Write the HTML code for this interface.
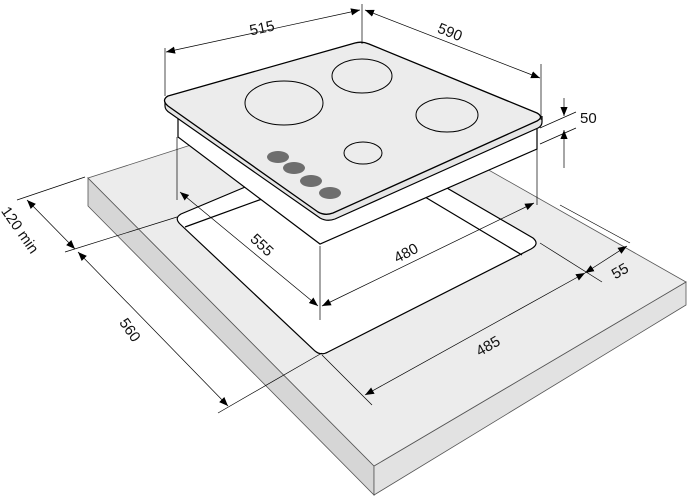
<!DOCTYPE html>
<html><head><meta charset="utf-8"><style>
html,body{margin:0;padding:0;background:#fff}
svg{display:block}
text{font-family:"Liberation Sans",sans-serif;font-size:15px;fill:#111}
</style></head><body>
<svg width="688" height="496" viewBox="0 0 688 496" xmlns="http://www.w3.org/2000/svg">
<defs>
<marker id="a" viewBox="0 0 10 10" refX="10" refY="5" markerWidth="9" markerHeight="9" orient="auto-start-reverse" markerUnits="userSpaceOnUse"><path d="M0,1 L10,5 L0,9 z" fill="#000"/></marker>
</defs>
<!-- countertop -->
<polygon points="88,178 88,206 374,495 374,466" fill="#d6d6d6" stroke="#555" stroke-width="0.8"/>
<polygon points="374,466 374,495 686,305 686,282" fill="#e2e2e2" stroke="#555" stroke-width="0.8"/>
<polygon points="88,178 353,93 686,282 374,466" fill="#ececec" stroke="#555" stroke-width="0.8"/>
<!-- cutout -->
<path d="M250,185 L181,214 Q174,218 180,224 L315,351 Q321,356 328,352 L531,249 Q540,244 533,238 L440,184 Z" fill="#fff" stroke="#000" stroke-width="1.2"/>
<line x1="185" y1="227" x2="262" y2="199" stroke="#000" stroke-width="1.2"/>
<line x1="522" y1="255" x2="425" y2="197" stroke="#000" stroke-width="1.2"/>
<!-- hob body -->
<polygon points="166,106 178,118 178,137 320,244 537,149 537,126 540,118" fill="#fff" stroke="#000" stroke-width="1.2"/>
<line x1="177" y1="137" x2="177" y2="200" stroke="#000" stroke-width="0.7"/>
<line x1="537" y1="149" x2="537" y2="205" stroke="#000" stroke-width="0.7"/>
<line x1="320" y1="246" x2="320" y2="320" stroke="#000" stroke-width="0.7"/>
<!-- plate thickness -->
<path d="M165,100 L165,106 Q165,110 170,113 L320,218 Q327,222 335,219 L538,128 Q542,126 542,122 L542,116" fill="#e6e6e6" stroke="#000" stroke-width="1.2"/>
<!-- plate top -->
<path d="M168,96 L355,43 Q362,41 369,44 L537,113 Q544,117 537,121 L333,213 Q325,216 318,212 L168,106 Q161,100 168,96 Z" fill="#ececec" stroke="#000" stroke-width="1.3"/>
<!-- burners -->
<ellipse cx="284" cy="103" rx="39" ry="22" fill="none" stroke="#000" stroke-width="1"/>
<ellipse cx="362" cy="76" rx="30" ry="17" fill="none" stroke="#000" stroke-width="1"/>
<ellipse cx="447" cy="115" rx="31" ry="17" fill="none" stroke="#000" stroke-width="1"/>
<ellipse cx="363" cy="153" rx="19" ry="11" fill="none" stroke="#000" stroke-width="1"/>
<!-- knobs -->
<ellipse cx="278" cy="157" rx="11" ry="6" fill="#6e6e6e"/>
<ellipse cx="294" cy="168" rx="11" ry="6" fill="#6e6e6e"/>
<ellipse cx="311" cy="181" rx="11" ry="6" fill="#6e6e6e"/>
<ellipse cx="330" cy="193" rx="11" ry="6" fill="#6e6e6e"/>
<!-- dimension lines -->
<g stroke="#000" stroke-width="0.7" fill="none">
<line x1="165" y1="48" x2="165" y2="96"/>
<line x1="362" y1="4" x2="362" y2="44"/>
<line x1="541" y1="64" x2="541" y2="120"/>
<line x1="166" y1="52" x2="360" y2="10" marker-start="url(#a)" marker-end="url(#a)"/>
<line x1="365" y1="10" x2="540" y2="78" marker-start="url(#a)" marker-end="url(#a)"/>
<line x1="540" y1="128" x2="576" y2="112"/>
<line x1="540" y1="144" x2="576" y2="128"/>
<line x1="564" y1="98" x2="564" y2="116" marker-end="url(#a)"/>
<line x1="564" y1="168" x2="564" y2="130" marker-end="url(#a)"/>
<line x1="180" y1="192" x2="318" y2="306" marker-start="url(#a)" marker-end="url(#a)"/>
<line x1="322" y1="306" x2="534" y2="203" marker-start="url(#a)" marker-end="url(#a)"/>
<line x1="540" y1="243" x2="602" y2="282"/>
<line x1="560" y1="205" x2="630" y2="243"/>
<line x1="585" y1="273" x2="627" y2="246" marker-start="url(#a)" marker-end="url(#a)"/>
<line x1="322" y1="355" x2="372" y2="405"/>
<line x1="365" y1="395" x2="585" y2="273" marker-start="url(#a)" marker-end="url(#a)"/>
<line x1="17" y1="200" x2="85" y2="177"/>
<line x1="65" y1="252" x2="177" y2="217"/>
<line x1="218" y1="413" x2="322" y2="353"/>
<line x1="27" y1="200" x2="75" y2="249" marker-start="url(#a)" marker-end="url(#a)"/>
<line x1="78" y1="252" x2="228" y2="406" marker-start="url(#a)" marker-end="url(#a)"/>
</g>
<text x="262" y="33" transform="rotate(-12 262 28)" text-anchor="middle">515</text>
<text x="450" y="37" transform="rotate(22 450 32)" text-anchor="middle">590</text>
<text x="580" y="123">50</text>
<text x="262" y="250" transform="rotate(43 262 245)" text-anchor="middle">555</text>
<text x="406" y="258" transform="rotate(-28 406 253)" text-anchor="middle">480</text>
<text x="620" y="276" transform="rotate(-30 620 271)" text-anchor="middle">55</text>
<text x="488" y="351" transform="rotate(-30 488 346)" text-anchor="middle">485</text>
<text x="130" y="335" transform="rotate(55 130 330)" text-anchor="middle">560</text>
<text x="20" y="235" transform="rotate(55 20 230)" text-anchor="middle" font-size="14">120 min</text>
</svg>
</body></html>
